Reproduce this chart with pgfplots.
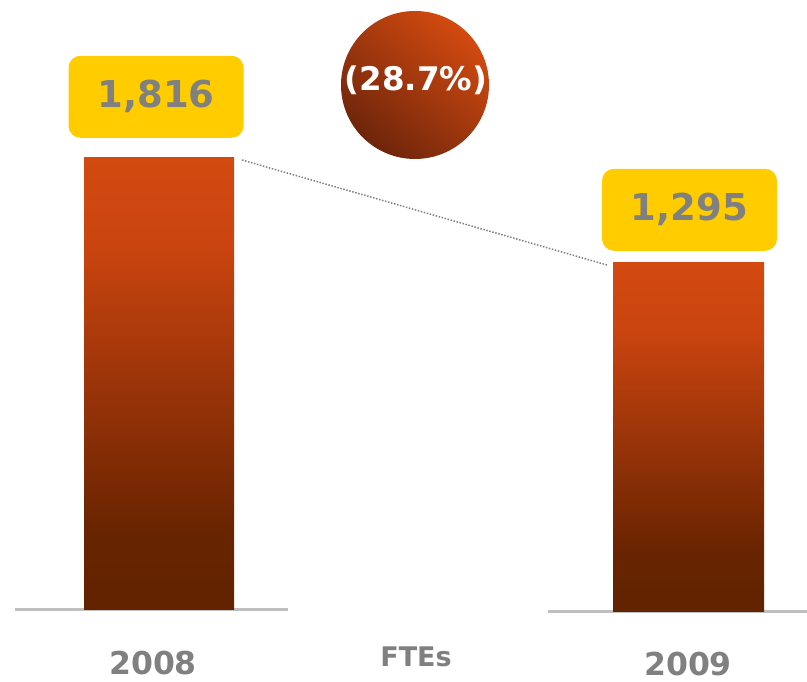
\documentclass[border=0pt]{standalone}
\usepackage{fontspec}
\setmainfont{DejaVu Sans}
\usepackage{pgfplots}
\pgfplotsset{compat=1.18}
\definecolor{barorange}{HTML}{D34A10}
\definecolor{barhigh}{HTML}{C9440F}
\definecolor{barmid}{HTML}{9B3409}
\definecolor{barlow}{HTML}{682400}
\definecolor{barbrown}{HTML}{622300}
\definecolor{circdark}{HTML}{6E250B}
\definecolor{lblyellow}{HTML}{FFCC00}
\definecolor{txtgray}{HTML}{808080}
\definecolor{basegray}{HTML}{C0C0C0}
\pgfdeclareverticalshading{barshade}{100bp}{color(0bp)=(barbrown); color(25bp)=(barbrown); color(33.5bp)=(barlow); color(50bp)=(barmid); color(65bp)=(barhigh); color(75bp)=(barorange); color(100bp)=(barorange)}
\pgfplotsset{
  ftebar/.style={
    scale only axis, clip=false, hide y axis,
    axis x line*=bottom, xtick=\empty, ytick=\empty,
    x axis line style={basegray, line width=3pt, -},
    ymin=0, xmin=0,
    /pgf/number format/assume math mode=true,
    nodes near coords={\pgfmathprintnumber{\pgfplotspointmeta}},
    every node near coord/.append style={anchor=south, fill=lblyellow, rounded corners=12pt,
      minimum width=175pt, minimum height=82pt, text=txtgray,
      font=\fontsize{37}{40}\selectfont\bfseries},
  }
}
\begin{document}
\begin{tikzpicture}
\useasboundingbox (0,0) rectangle (807pt,682pt);
% 2008
\begin{axis}[ftebar, at={(15pt,72pt)}, anchor=south west, width=273pt, height=452pt,
  xmax=273, ymax=1816,
  every node near coord/.append style={yshift=20pt, xshift=-3pt}]
\addplot[ybar, bar width=150pt, draw=none, shading=barshade] coordinates {(144,1816)};
\end{axis}
% 2009
\begin{axis}[ftebar, at={(548pt,70pt)}, anchor=south west, width=259pt, height=349pt,
  xmax=259, ymax=1295,
  every node near coord/.append style={yshift=12pt, xshift=1pt}]
\addplot[ybar, bar width=151pt, draw=none, shading=barshade] coordinates {(140.5,1295)};
\end{axis}
\draw[txtgray, line width=1.5pt, dash pattern=on 1.5pt off 1.6pt] (242pt,522pt) -- (607pt,417pt);
\shade[top color=barorange, bottom color=circdark, shading angle=-40] (415pt,597pt) circle (74pt);
\node[text=white, font=\fontsize{32.5}{35}\selectfont\bfseries] at (416pt,602pt) {(28.7\%)};
\node[text=txtgray, font=\fontsize{31.5}{34}\selectfont\bfseries] at (153pt,19pt) {2008};
\node[text=txtgray, font=\fontsize{27}{30}\selectfont\bfseries] at (416pt,25pt) {FTEs};
\node[text=txtgray, font=\fontsize{31.5}{34}\selectfont\bfseries] at (688pt,18pt) {2009};
\end{tikzpicture}
\end{document}
